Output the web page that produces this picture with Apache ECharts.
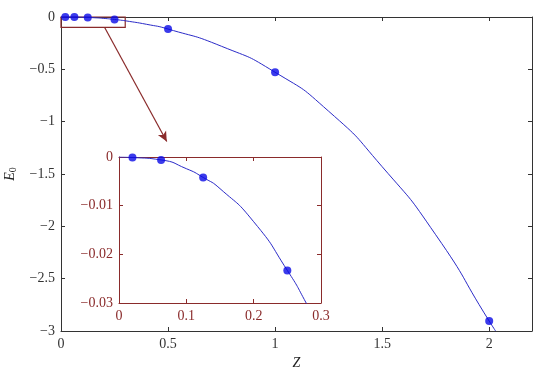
<!DOCTYPE html>
<html>
<head>
<meta charset="utf-8">
<script src="https://cdn.jsdelivr.net/npm/echarts@6/dist/echarts.min.js"></script>
<style>html,body{margin:0;padding:0;background:#fff;}#c{width:540px;height:368px;}</style>
</head>
<body>
<div id="c"></div>
<script>
// Data
var dotZ = [0.02, 0.0625, 0.125, 0.25, 0.5, 1, 2];
var dotE = [-0.0001, -0.0006, -0.0042, -0.0233, -0.115, -0.528, -2.905];
var curveZ = [0, 0.02, 0.0625, 0.1, 0.125, 0.15, 0.2, 0.25, 0.278, 0.3, 0.4, 0.5, 0.75, 1, 1.25, 1.5, 1.75, 2, 2.03];
var curveE = [0, -0.0001, -0.0006, -0.0024, -0.0042, -0.0065, -0.0133, -0.0233, -0.03, -0.036, -0.07, -0.115, -0.28, -0.528, -0.90, -1.43, -2.08, -2.905, -3.0];
var mainXTicks = [0, 0.5, 1, 1.5, 2];
var mainYTicks = [0, -0.5, -1, -1.5, -2, -2.5, -3];
var insetXTicks = [0, 0.1, 0.2, 0.3];
var insetYTicks = [0, -0.01, -0.02, -0.03];
var zoomBoxZ = [0, 0.3];
var zoomBoxE = [0.1, -0.1];
var arrowZ = [0.204, 0.494];
var arrowE = [-0.1, -1.19];

var curve = curveZ.map(function (z, i) { return [z, curveE[i]]; });
var dots = dotZ.map(function (z, i) { return [z, dotE[i]]; });

var FONT = 'Liberation Serif';
var AX = '#333333';
var RED = '#8a2b2b';
var LINE = '#2b2bc8';
var DOT = '#0a0ae6';

function fmt(v) {
  var r = Math.round(v * 10000) / 10000;
  if (r === 0) return '0';
  return (r < 0 ? '\u2212' : '') + Math.abs(r);
}

function axisCommon(color, labels, opts) {
  var o = {
    type: 'value',
    axisLine: { show: true, onZero: false, lineStyle: { color: color, width: 1 } },
    axisTick: { show: true, inside: true, length: 4, lineStyle: { color: color } },
    splitLine: { show: false },
    axisLabel: {
      show: labels, color: color, fontFamily: FONT, fontSize: 14, margin: 6,
      formatter: fmt, showMaxLabel: true, showMinLabel: true
    }
  };
  for (var k in opts) o[k] = opts[k];
  return o;
}

var chart = echarts.init(document.getElementById('c'), null, { renderer: 'canvas' });
var mainX = axisCommon(AX, true, { gridIndex: 0, min: 0, max: 2.2, interval: 0.5, position: 'bottom',
  name: 'Z', nameLocation: 'middle', nameGap: 18,
  nameTextStyle: { fontFamily: FONT, fontSize: 14, fontStyle: 'italic', color: '#222' } });
mainX.axisLabel.showMaxLabel = false;
var option = {
  backgroundColor: '#fff',
  animation: false,
  textStyle: { fontFamily: FONT, fontSize: 14 },
  grid: [
    { left: 61, top: 17, right: 8, bottom: 37, containLabel: false, outerBoundsMode: 'none' },
    { left: 119, top: 157, right: 219, bottom: 65, containLabel: false, outerBoundsMode: 'none',
      show: true, backgroundColor: '#fff', borderWidth: 0, z: 5 }
  ],
  xAxis: [
    mainX,
    axisCommon(AX, false, { gridIndex: 0, min: 0, max: 2.2, interval: 0.5, position: 'top' }),
    axisCommon(RED, true, { gridIndex: 1, min: 0, max: 0.3, interval: 0.1, position: 'bottom', z: 6 }),
    axisCommon(RED, false, { gridIndex: 1, min: 0, max: 0.3, interval: 0.1, position: 'top', z: 6 })
  ],
  yAxis: [
    axisCommon(AX, true, { gridIndex: 0, min: -3, max: 0, interval: 0.5, position: 'left',
      name: '{i|E}{s|0}', nameLocation: 'middle', nameGap: 36, nameRotate: 90,
      nameTextStyle: { color: '#222', rich: {
        i: { fontFamily: FONT, fontSize: 14, fontStyle: 'italic', color: '#222' },
        s: { fontFamily: FONT, fontSize: 10, color: '#222', verticalAlign: 'bottom', padding: [6, 0, 0, 0] }
      } } }),
    axisCommon(AX, false, { gridIndex: 0, min: -3, max: 0, interval: 0.5, position: 'right' }),
    axisCommon(RED, true, { gridIndex: 1, min: -0.03, max: 0, interval: 0.01, position: 'left', z: 6 }),
    axisCommon(RED, false, { gridIndex: 1, min: -0.03, max: 0, interval: 0.01, position: 'right', z: 6 })
  ],
  series: [
    {
      type: 'line', xAxisIndex: 0, yAxisIndex: 0, data: curve, smooth: 0.6,
      symbol: 'none', clip: false, lineStyle: { color: LINE, width: 1 }, z: 2,
      markArea: {
        silent: true,
        itemStyle: { color: 'rgba(0,0,0,0)', borderColor: RED, borderWidth: 1.2 },
        data: [[{ coord: [zoomBoxZ[0], zoomBoxE[0]] }, { coord: [zoomBoxZ[1], zoomBoxE[1]] }]]
      },
      markLine: {
        silent: true, symbol: ['none', 'arrow'], symbolSize: [7, 10],
        lineStyle: { color: RED, width: 1.2, type: 'solid' }, label: { show: false },
        data: [[{ coord: [arrowZ[0], arrowE[0]] }, { coord: [arrowZ[1], arrowE[1]] }]]
      }
    },
    {
      type: 'scatter', xAxisIndex: 0, yAxisIndex: 0, data: dots, symbolSize: 8,
      itemStyle: { color: DOT }, z: 3, clip: false
    },
    {
      type: 'line', xAxisIndex: 2, yAxisIndex: 2, data: curve, smooth: 0.6,
      symbol: 'none', clip: true, lineStyle: { color: LINE, width: 1 }, z: 7
    },
    {
      type: 'scatter', xAxisIndex: 2, yAxisIndex: 2, data: dots.filter(function (d) { return d[0] <= 0.3; }),
      symbolSize: 8, itemStyle: { color: DOT }, z: 8, clip: true
    }
  ]
};
chart.setOption(option);
</script>
</body>
</html>
